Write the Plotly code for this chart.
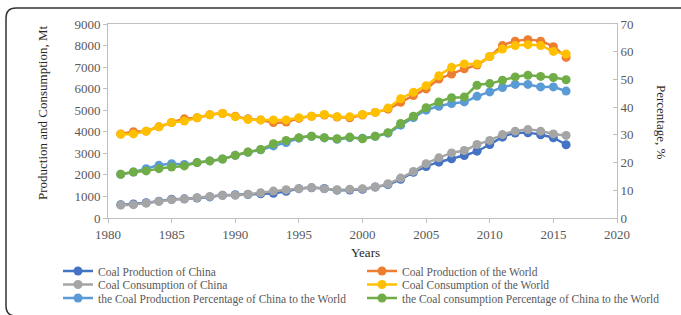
import plotly.graph_objects as go

years = list(range(1981, 2017))

china_prod = [620, 650, 710, 780, 870, 890, 930, 980, 1050, 1080, 1090, 1120, 1150, 1240,
              1360, 1400, 1370, 1290, 1300, 1330, 1440, 1550, 1800, 2120, 2390, 2590, 2750,
              2900, 3100, 3410, 3750, 3940, 3950, 3860, 3720, 3400]
world_prod = [3900, 4000, 4030, 4230, 4430, 4600, 4650, 4790, 4850, 4720, 4600, 4550, 4430, 4450,
              4620, 4720, 4780, 4680, 4650, 4780, 4900, 5050, 5370, 5680, 5990, 6450, 6680,
              6920, 7100, 7490, 8000, 8200, 8270, 8200, 7950, 7450]
china_cons = [600, 620, 690, 770, 850, 880, 940, 1000, 1050, 1050, 1100, 1170, 1250, 1310,
              1360, 1410, 1360, 1310, 1330, 1360, 1440, 1590, 1850, 2160, 2520, 2790, 3020,
              3130, 3410, 3600, 3870, 4030, 4100, 4030, 3900, 3830]
world_cons = [3880, 3900, 4030, 4230, 4430, 4500, 4650, 4790, 4850, 4700, 4570, 4550, 4550, 4550,
              4650, 4720, 4800, 4700, 4700, 4800, 4900, 5100, 5530, 5830, 6140, 6600, 6990,
              7150, 7150, 7490, 7840, 8000, 8040, 8000, 7730, 7610]
prod_pct = [15.8, 16.6, 17.8, 19.0, 19.6, 19.3, 20.0, 20.6, 21.3, 22.6, 23.7, 24.6, 26.0, 27.2,
            28.8, 29.5, 28.9, 28.4, 29.0, 28.8, 29.5, 30.6, 33.5, 36.2, 38.9, 40.3, 41.3,
            41.9, 43.9, 45.5, 47.1, 48.2, 48.2, 47.3, 47.3, 45.8]
cons_pct = [15.8, 16.6, 17.0, 17.8, 18.4, 18.8, 20.0, 20.6, 21.3, 22.6, 23.8, 24.7, 26.8, 28.0,
            29.0, 29.5, 29.0, 28.6, 29.2, 28.6, 29.5, 30.8, 34.1, 36.7, 39.8, 41.9, 43.4,
            43.7, 47.9, 48.5, 49.7, 50.9, 51.5, 51.1, 50.7, 49.9]

names = ["Coal Production of China", "Coal Production of the World",
         "Coal Consumption of China", "Coal Consumption of the World",
         "the Coal Production Percentage of China to the World",
         "the Coal consumption Percentage of China to the World"]
colors = ["#4472C4", "#ED7D31", "#A5A5A5", "#FFC000", "#5B9BD5", "#70AD47"]
series = [china_prod, world_prod, china_cons, world_cons, prod_pct, cons_pct]
axes = ["y", "y", "y", "y", "y2", "y2"]

FONT = "Liberation Serif, Times New Roman, serif"
W, H = 681, 315
L, R, T, B = 108, 64, 24, 97
PW, PH = W - L - R, H - T - B


def xp(px):
    return (px - L) / PW


def yp(py):
    return (H - B - py) / PH


fig = go.Figure()
legend_ids = ["legend", "legend2", "legend3", "legend4", "legend5", "legend6"]
for name, col, vals, ax, lg in zip(names, colors, series, axes, legend_ids):
    fig.add_trace(go.Scatter(
        x=years, y=vals, name=name, yaxis=ax, legend=lg,
        mode="lines+markers",
        line=dict(color=col, width=2.5, shape="spline", smoothing=0.5),
        marker=dict(color=col, size=9),
    ))

# rounded frame
x0, y0, x1, y1, r = 6, 8, 681, 316, 10
path = (f"M {xp(x0)},{yp(y1 - r)} L {xp(x0)},{yp(y0 + r)} Q {xp(x0)},{yp(y0)} {xp(x0 + r)},{yp(y0)} "
        f"L {xp(x1)},{yp(y0)} M {xp(x0)},{yp(y1 - r)} Q {xp(x0)},{yp(y1)} {xp(x0 + r)},{yp(y1)}")

tickfont = dict(family=FONT, size=13, color="#595959")
legfont = dict(family=FONT, size=11.5, color="#595959")

col_x = [58, 362]
row_y = [271, 284.5, 298]
legend_layout = {}
for i, lg in enumerate(legend_ids):
    legend_layout[lg] = dict(orientation="h", x=xp(col_x[i % 2]), y=yp(row_y[i // 2]),
                             xanchor="left", yanchor="middle", font=legfont,
                             bgcolor="rgba(0,0,0,0)", itemwidth=30)

fig.update_layout(
    width=W, height=H,
    margin=dict(l=L, r=R, t=T, b=B, autoexpand=False),
    paper_bgcolor="white", plot_bgcolor="white",
    showlegend=True,
    xaxis=dict(range=[1980, 2020], dtick=5, tick0=1980, showgrid=False, zeroline=False,
               showline=True, linecolor="#BFBFBF", linewidth=1, mirror=True,
               ticks="outside", ticklen=4, tickcolor="#BFBFBF", tickfont=tickfont,
               automargin=False),
    yaxis=dict(range=[0, 9000], dtick=1000, showgrid=False, zeroline=False,
               showline=True, linecolor="#BFBFBF", linewidth=1,
               ticks="outside", ticklen=4, tickcolor="#BFBFBF", tickfont=tickfont,
               automargin=False),
    yaxis2=dict(range=[0, 70], dtick=10, overlaying="y", side="right", showgrid=False,
                zeroline=False, showline=True, linecolor="#BFBFBF", linewidth=1,
                ticks="inside", ticklen=4, tickcolor="#BFBFBF", tickfont=tickfont,
                automargin=False),
    shapes=[dict(type="path", xref="paper", yref="paper", path=path,
                 line=dict(color="#333333", width=1.5))],
    annotations=[
        dict(text="Production and Consumption, Mt", xref="paper", yref="paper",
             x=xp(42), y=yp(113), xanchor="center", yanchor="middle",
             textangle=-90, showarrow=False,
             font=dict(family=FONT, size=13, color="#262626")),
        dict(text="Percentage, %", xref="paper", yref="paper",
             x=xp(662), y=yp(122), xanchor="center", yanchor="middle",
             textangle=90, showarrow=False,
             font=dict(family=FONT, size=13, color="#262626")),
        dict(text="Years", xref="paper", yref="paper",
             x=xp(365), y=yp(252), xanchor="center", yanchor="middle", showarrow=False,
             font=dict(family=FONT, size=13, color="#262626")),
    ],
    **legend_layout,
)

fig.write_html("out.html",
               config={"displayModeBar": False},
               post_script="document.body.style.margin='0';document.body.style.overflow='hidden';")
